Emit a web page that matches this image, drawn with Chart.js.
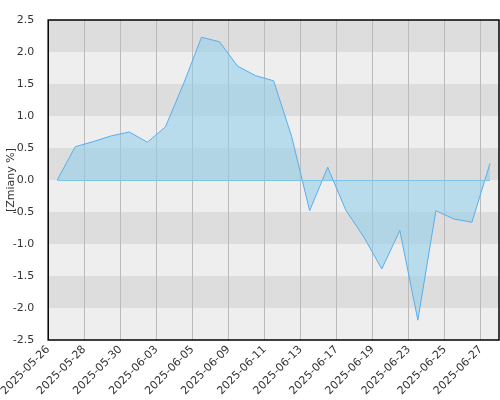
<!DOCTYPE html>
<html><head><script src="https://cdn.jsdelivr.net/npm/chart.js@4"></script>
<style>body{margin:0;background:#fff}#w{width:500px;height:400px}</style></head>
<body><div id="w"><canvas id="c"></canvas></div>
<script>
const dates=["2025-05-26","2025-05-27","2025-05-28","2025-05-29","2025-05-30","2025-06-02","2025-06-03","2025-06-04","2025-06-05","2025-06-06","2025-06-09","2025-06-10","2025-06-11","2025-06-12","2025-06-13","2025-06-16","2025-06-17","2025-06-18","2025-06-19","2025-06-20","2025-06-23","2025-06-24","2025-06-25","2025-06-26","2025-06-27"];
const values=[0,0.52,0.60,0.69,0.75,0.59,0.83,1.50,2.23,2.16,1.78,1.63,1.55,0.68,-0.48,0.20,-0.47,-0.89,-1.39,-0.79,-2.19,-0.48,-0.61,-0.66,0.26];
const yTicks=[-2.5,-2.0,-1.5,-1.0,-0.5,0,0.5,1.0,1.5,2.0,2.5];
const pts=values.map((v,i)=>({x:i+0.5,y:v}));
const bands={id:'bands',beforeDraw(ch){const {ctx,chartArea:a,scales:{y}}=ch;ctx.save();
for(let i=0;i<yTicks.length-1;i++){const t=y.getPixelForValue(yTicks[i+1]),b=y.getPixelForValue(yTicks[i]);
ctx.fillStyle=((yTicks.length-2-i)%2===0)?'#dddddd':'#eeeeee';ctx.fillRect(a.left,t,a.right-a.left,b-t);}ctx.restore();},
afterDatasetsDraw(ch){const {ctx,scales:{x,y}}=ch;ctx.save();ctx.strokeStyle='#7cc4ea';ctx.lineWidth=1;const z=Math.round(y.getPixelForValue(0))+0.5;
ctx.beginPath();ctx.moveTo(x.getPixelForValue(pts[0].x),z);ctx.lineTo(x.getPixelForValue(pts[pts.length-1].x),z);ctx.stroke();ctx.restore();},
afterDraw(ch){const {ctx,chartArea:a}=ch;ctx.save();ctx.strokeStyle='#000';ctx.lineWidth=1.5;ctx.strokeRect(a.left,a.top,a.right-a.left,a.bottom-a.top);ctx.restore();}};
new Chart(document.getElementById('c'),{type:'line',
data:{datasets:[{data:pts,borderColor:'#5aaeee',borderWidth:1,backgroundColor:'rgba(140,205,235,0.55)',fill:'origin',pointRadius:0,tension:0}]},
options:{responsive:true,maintainAspectRatio:false,animation:false,layout:{padding:{top:20,right:1}},
plugins:{legend:{display:false},tooltip:{enabled:false}},
scales:{
x:{type:'linear',min:0,max:dates.length,afterBuildTicks(s){s.ticks=[];for(let i=0;i<dates.length;i+=2)s.ticks.push({value:i});},
afterFit(s){s.height=60;},
ticks:{autoSkip:false,maxRotation:45,minRotation:45,color:'#333',font:{size:11,family:'DejaVu Sans'},callback:v=>dates[v]},
grid:{color:'#bbbbbb',drawTicks:false,lineWidth:1},border:{display:false}},
y:{min:-2.5,max:2.5,afterBuildTicks(s){s.ticks=yTicks.map(v=>({value:v}));},afterFit(s){s.width=44;},
ticks:{color:'#333',font:{size:11,family:'DejaVu Sans'},callback:v=>v.toFixed(1),padding:6},
grid:{display:false},border:{display:false},
title:{display:true,text:'[Zmiany %]',color:'#333',font:{size:11,family:'DejaVu Sans'},padding:0}}}},
plugins:[bands]});
</script></body></html>
